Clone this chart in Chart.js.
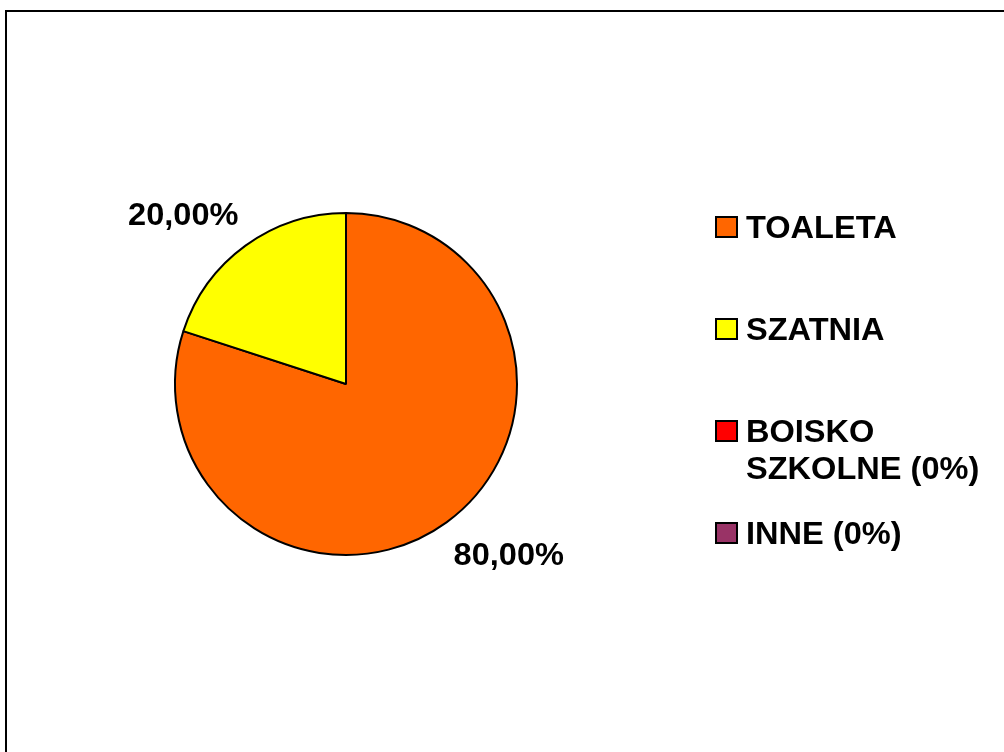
<!DOCTYPE html>
<html>
<head>
<meta charset="utf-8">
<script src="https://cdn.jsdelivr.net/npm/chart.js@4/dist/chart.umd.min.js"></script>
<style>
html,body{margin:0;padding:0;background:#fff;overflow:hidden;}
canvas{display:block;}
</style>
</head>
<body>
<canvas id="c" width="1004" height="752"></canvas>
<script>
const categories = ['TOALETA', 'SZATNIA', ['BOISKO', 'SZKOLNE (0%)'], 'INNE (0%)'];
const values = [80, 20, 0, 0];
const colors = ['#FF6600', '#FFFF00', '#FF0000', '#993366'];

const FONT = 'bold 31px "Liberation Sans", Arial, sans-serif';
const XSCALE = 1.05;

function drawText(ctx, txt, x, y, align) {
  ctx.save();
  ctx.translate(x, y);
  ctx.scale(XSCALE, 1);
  ctx.textAlign = align;
  ctx.textBaseline = 'alphabetic';
  ctx.fillText(txt, 0, 0);
  ctx.restore();
}

const framePlugin = {
  id: 'frame',
  beforeDraw(chart) {
    const ctx = chart.ctx;
    ctx.save();
    ctx.fillStyle = '#fff';
    ctx.fillRect(0, 0, chart.width, chart.height);
    ctx.strokeStyle = '#000';
    ctx.lineWidth = 2;
    ctx.beginPath();
    ctx.moveTo(6, chart.height + 5);
    ctx.lineTo(6, 11);
    ctx.lineTo(chart.width + 5, 11);
    ctx.stroke();
    ctx.restore();
  }
};

const labelPlugin = {
  id: 'pctLabels',
  afterDatasetsDraw(chart) {
    const ctx = chart.ctx;
    const meta = chart.getDatasetMeta(0);
    const ds = chart.data.datasets[0];
    const total = ds.data.reduce((a, b) => a + b, 0);
    ctx.save();
    ctx.font = FONT;
    ctx.fillStyle = '#000';
    meta.data.forEach((arc, i) => {
      const v = ds.data[i];
      if (!v) return;
      const mid = (arc.startAngle + arc.endAngle) / 2;
      const dx = Math.cos(mid), dy = Math.sin(mid);
      const r = arc.outerRadius + 12;
      const x = arc.x + dx * r;
      const y = arc.y + dy * r + (dy < 0 ? -22 : 22) + 11;
      const txt = (v / total * 100).toFixed(2).replace('.', ',') + '%';
      drawText(ctx, txt, x, y, dx < 0 ? 'right' : 'left');
    });
    ctx.restore();
  }
};

const legendPlugin = {
  id: 'customLegend',
  afterDraw(chart) {
    const ctx = chart.ctx;
    const labels = chart.data.labels;
    const bg = chart.data.datasets[0].backgroundColor;
    ctx.save();
    ctx.font = FONT;
    const boxX = 716, textX = 746;
    labels.forEach((lab, i) => {
      const base = 238 + 102 * i;
      ctx.fillStyle = bg[i];
      ctx.fillRect(boxX, base - 21, 21, 20);
      ctx.strokeStyle = '#000';
      ctx.lineWidth = 2;
      ctx.strokeRect(boxX, base - 21, 21, 20);
      ctx.fillStyle = '#000';
      const lines = Array.isArray(lab) ? lab : [lab];
      lines.forEach((ln, j) => drawText(ctx, ln, textX, base + 37 * j, 'left'));
    });
    ctx.restore();
  }
};

new Chart(document.getElementById('c'), {
  type: 'pie',
  data: {
    labels: categories,
    datasets: [{
      data: values,
      backgroundColor: colors,
      borderColor: '#000',
      borderWidth: 2
    }]
  },
  options: {
    responsive: false,
    animation: false,
    devicePixelRatio: 1,
    radius: 171,
    layout: { padding: { left: 175, right: 487, top: 213, bottom: 197 } },
    plugins: {
      legend: { display: false },
      tooltip: { enabled: false },
      title: { display: false }
    }
  },
  plugins: [framePlugin, labelPlugin, legendPlugin]
});
</script>
</body>
</html>
